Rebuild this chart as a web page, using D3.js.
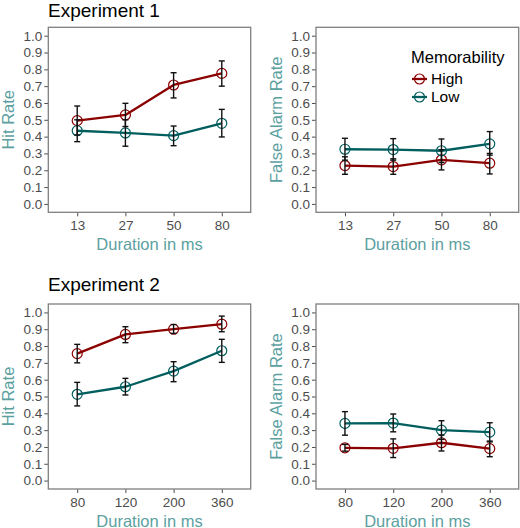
<!DOCTYPE html>
<html>
<head>
<meta charset="utf-8">
<script src="https://cdn.jsdelivr.net/npm/d3@7"></script>
<style>
  html, body { margin: 0; padding: 0; background: #ffffff; }
  svg { display: block; font-family: "Liberation Sans", Arial, Helvetica, sans-serif; }
</style>
</head>
<body>
<svg id="chart" width="520" height="528"></svg>
<script>
// ---------------- data ----------------
const exp1Durations = ["13", "27", "50", "80"];
const exp2Durations = ["80", "120", "200", "360"];
const yTicks = [0, 0.1, 0.2, 0.3, 0.4, 0.5, 0.6, 0.7, 0.8, 0.9, 1.0];
const seriesNames = ["High", "Low"];

// Experiment 1 - Hit rate
const e1HitHighMean = [0.495, 0.529, 0.707, 0.776];
const e1HitHighLo   = [0.410, 0.460, 0.630, 0.700];
const e1HitHighHi   = [0.582, 0.598, 0.780, 0.850];
const e1HitLowMean  = [0.435, 0.422, 0.406, 0.479];
const e1HitLowLo    = [0.370, 0.343, 0.346, 0.398];
const e1HitLowHi    = [0.500, 0.500, 0.463, 0.562];

// Experiment 1 - False alarm rate
const e1FAHighMean = [0.228, 0.222, 0.262, 0.242];
const e1FAHighLo   = [0.176, 0.176, 0.202, 0.178];
const e1FAHighHi   = [0.280, 0.268, 0.322, 0.300];
const e1FALowMean  = [0.325, 0.323, 0.316, 0.357];
const e1FALowLo    = [0.260, 0.260, 0.246, 0.290];
const e1FALowHi    = [0.390, 0.388, 0.386, 0.430];

// Experiment 2 - Hit rate
const e2HitHighMean = [0.755, 0.869, 0.900, 0.930];
const e2HitHighLo   = [0.700, 0.820, 0.875, 0.885];
const e2HitHighHi   = [0.810, 0.915, 0.928, 0.978];
const e2HitLowMean  = [0.513, 0.558, 0.651, 0.772];
const e2HitLowLo    = [0.444, 0.509, 0.588, 0.703];
const e2HitLowHi    = [0.584, 0.608, 0.707, 0.840];

// Experiment 2 - False alarm rate
const e2FAHighMean = [0.195, 0.192, 0.225, 0.190];
const e2FAHighLo   = [0.175, 0.137, 0.176, 0.142];
const e2FAHighHi   = [0.215, 0.248, 0.270, 0.235];
const e2FALowMean  = [0.340, 0.342, 0.300, 0.288];
const e2FALowLo    = [0.270, 0.290, 0.245, 0.230];
const e2FALowHi    = [0.410, 0.396, 0.356, 0.344];

// ---------------- styles ----------------
const colors = { High: "#8b0000", Low: "#005e5e" };
const labelColor = "#5c9fa1";
const tickColor = "#4d4d4d";
const borderColor = "#7f7f7f";

const svg = d3.select("#chart");

function build(cats, mean, lo, hi) {
  return cats.map((c, i) => ({ cat: c, m: mean[i], lo: lo[i], hi: hi[i] }));
}

function drawPanel(cfg) {
  const { x0, x1, y0, y1, cats, series, yLabel } = cfg;
  const g = svg.append("g");
  const x = d3.scalePoint().domain(cats).range([x0, x1]).padding(0.6);
  const y = d3.scaleLinear().domain([-0.05, 1.05]).range([y1, y0]);

  // y axis
  const ya = g.append("g").attr("transform", `translate(${x0},0)`)
    .call(d3.axisLeft(y).tickValues(yTicks).tickFormat(d3.format(".1f")).tickSize(4).tickPadding(2));
  ya.select(".domain").remove();
  ya.selectAll(".tick line").attr("stroke", tickColor).attr("stroke-width", 1);
  ya.selectAll(".tick text").attr("fill", tickColor).style("font-size", "13.5px")
    .style("font-family", '"Liberation Sans", Arial, sans-serif');

  // x axis
  const xa = g.append("g").attr("transform", `translate(0,${y1})`)
    .call(d3.axisBottom(x).tickSize(4).tickPadding(4));
  xa.select(".domain").remove();
  xa.selectAll(".tick line").attr("stroke", tickColor).attr("stroke-width", 1);
  xa.selectAll(".tick text").attr("fill", tickColor).style("font-size", "13.5px")
    .style("font-family", '"Liberation Sans", Arial, sans-serif');

  // border
  g.append("rect").attr("x", x0).attr("y", y0).attr("width", x1 - x0).attr("height", y1 - y0)
    .attr("fill", "none").attr("stroke", borderColor).attr("stroke-width", 1.3);

  const line = d3.line().x(d => x(d.cat)).y(d => y(d.m));

  series.forEach(s => {
    g.append("path").datum(s.data).attr("d", line).attr("fill", "none")
      .attr("stroke", colors[s.name]).attr("stroke-width", 2.3).attr("stroke-linejoin", "round");
  });
  series.forEach(s => {
    g.selectAll(null).data(s.data).enter().append("circle")
      .attr("cx", d => x(d.cat)).attr("cy", d => y(d.m)).attr("r", 5)
      .attr("fill", "none").attr("stroke", colors[s.name]).attr("stroke-width", 1.2);
  });
  series.forEach(s => {
    const eb = g.selectAll(null).data(s.data).enter().append("g").attr("stroke", "#111").attr("stroke-width", 1.4);
    eb.append("line").attr("x1", d => x(d.cat)).attr("x2", d => x(d.cat))
      .attr("y1", d => y(d.lo)).attr("y2", d => y(d.hi));
    eb.append("line").attr("x1", d => x(d.cat) - 3).attr("x2", d => x(d.cat) + 3)
      .attr("y1", d => y(d.lo)).attr("y2", d => y(d.lo));
    eb.append("line").attr("x1", d => x(d.cat) - 3).attr("x2", d => x(d.cat) + 3)
      .attr("y1", d => y(d.hi)).attr("y2", d => y(d.hi));
  });

  // axis titles
  g.append("text").attr("x", (x0 + x1) / 2).attr("y", y1 + 37.5).attr("text-anchor", "middle")
    .attr("fill", labelColor).style("font-size", "16.5px").text("Duration in ms");
  g.append("text").attr("transform", `translate(${x0 - 34},${(y0 + y1) / 2}) rotate(-90)`)
    .attr("text-anchor", "middle").attr("fill", labelColor).style("font-size", "16.5px").text(yLabel);
}

drawPanel({ x0: 48.3, x1: 250.7, y0: 27.3, y1: 212.3, cats: exp1Durations, yLabel: "Hit Rate",
  series: [
    { name: "High", data: build(exp1Durations, e1HitHighMean, e1HitHighLo, e1HitHighHi) },
    { name: "Low",  data: build(exp1Durations, e1HitLowMean, e1HitLowLo, e1HitLowHi) }
  ] });
drawPanel({ x0: 316, x1: 518.7, y0: 27.3, y1: 212.3, cats: exp1Durations, yLabel: "False Alarm Rate",
  series: [
    { name: "High", data: build(exp1Durations, e1FAHighMean, e1FAHighLo, e1FAHighHi) },
    { name: "Low",  data: build(exp1Durations, e1FALowMean, e1FALowLo, e1FALowHi) }
  ] });
drawPanel({ x0: 48.3, x1: 250.7, y0: 304, y1: 489, cats: exp2Durations, yLabel: "Hit Rate",
  series: [
    { name: "High", data: build(exp2Durations, e2HitHighMean, e2HitHighLo, e2HitHighHi) },
    { name: "Low",  data: build(exp2Durations, e2HitLowMean, e2HitLowLo, e2HitLowHi) }
  ] });
drawPanel({ x0: 316, x1: 518.7, y0: 304, y1: 489, cats: exp2Durations, yLabel: "False Alarm Rate",
  series: [
    { name: "High", data: build(exp2Durations, e2FAHighMean, e2FAHighLo, e2FAHighHi) },
    { name: "Low",  data: build(exp2Durations, e2FALowMean, e2FALowLo, e2FALowHi) }
  ] });

// titles
svg.append("text").attr("x", 48).attr("y", 17).attr("fill", "#000").style("font-size", "19px").text("Experiment 1");
svg.append("text").attr("x", 48).attr("y", 291).attr("fill", "#000").style("font-size", "19px").text("Experiment 2");

// legend
const leg = svg.append("g");
leg.append("text").attr("x", 411).attr("y", 63).attr("fill", "#000").style("font-size", "16.5px").text("Memorability");
seriesNames.forEach((n, i) => {
  const cy = 79 + i * 18;
  leg.append("line").attr("x1", 412).attr("x2", 427).attr("y1", cy).attr("y2", cy)
    .attr("stroke", colors[n]).attr("stroke-width", 2.3);
  leg.append("circle").attr("cx", 419.5).attr("cy", cy).attr("r", 5).attr("fill", "none")
    .attr("stroke", colors[n]).attr("stroke-width", 1.2);
  leg.append("text").attr("x", 431).attr("y", cy + 5).attr("fill", "#000").style("font-size", "15.5px").text(n);
});
</script>
</body>
</html>
